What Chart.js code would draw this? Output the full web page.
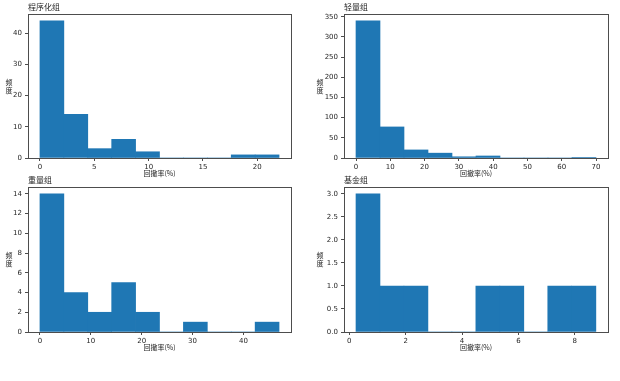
<!DOCTYPE html>
<html><head><meta charset="utf-8">
<script src="https://cdn.jsdelivr.net/npm/chart.js@4"></script>
<style>
html,body{margin:0;padding:0;background:#fff;}
#wrap{position:relative;width:620px;height:381px;overflow:hidden;}
.cell{position:absolute;}
.ylab{position:absolute;font-family:"Noto Sans CJK SC";font-size:7px;line-height:8px;color:#262626;text-align:center;width:10px;}
</style></head>
<body>
<div id="wrap">
  <div class="cell" style="left:0;top:0;width:310px;height:181px"><canvas id="c1"></canvas></div>
  <div class="cell" style="left:310px;top:0;width:310px;height:181px"><canvas id="c2"></canvas></div>
  <div class="cell" style="left:0;top:172px;width:310px;height:209px"><canvas id="c3"></canvas></div>
  <div class="cell" style="left:310px;top:172px;width:310px;height:209px"><canvas id="c4"></canvas></div>
  <div class="ylab" style="left:4px;top:78px">频<br>度</div>
  <div class="ylab" style="left:315px;top:78px">频<br>度</div>
  <div class="ylab" style="left:4px;top:251px">频<br>度</div>
  <div class="ylab" style="left:315px;top:251px">频<br>度</div>
</div>
<script>
// ---- data ----
const titles = ['程序化组', '轻量组', '重量组', '基金组'];
const xLabel = '回撤率(%)';

const binsProg = [0, 2.2, 4.4, 6.6, 8.8, 11, 13.2, 15.4, 17.6, 19.8, 22];
const countsProg = [44, 14, 3, 6, 2, 0, 0, 0, 1, 1];
const xTicksProg = [0, 5, 10, 15, 20];
const yTicksProg = [0, 10, 20, 30, 40];

const binsLight = [0, 7, 14, 21, 28, 35, 42, 49, 56, 63, 70];
const countsLight = [340, 77, 20, 12, 3, 5, 0, 0, 0, 1];
const xTicksLight = [0, 10, 20, 30, 40, 50, 60, 70];
const yTicksLight = [0, 50, 100, 150, 200, 250, 300, 350];

const binsHeavy = [0, 4.7, 9.4, 14.1, 18.8, 23.5, 28.2, 32.9, 37.6, 42.3, 47];
const countsHeavy = [14, 4, 2, 5, 2, 0, 1, 0, 0, 1];
const xTicksHeavy = [0, 10, 20, 30, 40];
const yTicksHeavy = [0, 2, 4, 6, 8, 10, 12, 14];

const binsFund = [0.24, 1.09, 1.94, 2.79, 3.64, 4.49, 5.34, 6.19, 7.04, 7.89, 8.75];
const countsFund = [3, 1, 1, 0, 0, 1, 1, 0, 1, 1];
const xTicksFund = [0, 2, 4, 6, 8];
const yTicksFund = [0, 0.5, 1.0, 1.5, 2.0, 2.5, 3.0];

// ---- drawing ----
const TEXT = '#262626';
const SPINE = '#4d4d4d';
const boxPlugin = {
  id: 'box',
  afterDatasetsDraw(chart) {
    const a = chart.chartArea, ctx = chart.ctx;
    ctx.save();
    ctx.strokeStyle = SPINE; ctx.lineWidth = 1;
    ctx.strokeRect(Math.round(a.left) + 0.5, Math.round(a.top) + 0.5,
                   Math.round(a.right - a.left), Math.round(a.bottom - a.top));
    ctx.restore();
  }
};

function histChart(id, title, bins, counts, xTicks, yTicks, yw, pad, yDec) {
  const xmargin = (bins[bins.length - 1] - bins[0]) * 0.05;
  const ymax = Math.max(...counts) * 1.05;
  const data = counts.map((c, i) => ({x: (bins[i] + bins[i + 1]) / 2, y: c}));
  return new Chart(document.getElementById(id), {
    type: 'bar',
    data: {datasets: [{
      data,
      backgroundColor: '#1f77b4',
      borderWidth: 0,
      barPercentage: 1,
      categoryPercentage: 1
    }]},
    options: {
      responsive: true, maintainAspectRatio: false, animation: false,
      layout: {padding: pad},
      plugins: {
        legend: {display: false}, tooltip: {enabled: false},
        title: {display: true, text: title, align: 'start', fullSize: false,
          color: TEXT, font: {family: 'Noto Sans CJK SC', size: 8, weight: 'normal', lineHeight: 1.2},
          padding: {top: 0, bottom: 2.2}}
      },
      scales: {
        x: {
          type: 'linear', offset: false,
          min: bins[0] - xmargin, max: bins[bins.length - 1] + xmargin,
          afterBuildTicks: s => { s.ticks = xTicks.map(v => ({value: v})); },
          afterFit: s => { s.height = 20; },
          grid: {display: true, drawOnChartArea: false, drawTicks: true, tickLength: 3, color: SPINE, offset: false},
          border: {display: false},
          ticks: {color: TEXT, font: {family: 'DejaVu Sans', size: 7}, padding: 1.5, maxRotation: 0, autoSkip: false,
                  includeBounds: false, callback: v => String(v)},
          title: {display: true, text: xLabel, color: TEXT, font: {family: 'Noto Sans CJK SC', size: 7, lineHeight: 1.2},
                  padding: {top: 0, bottom: 0}}
        },
        y: {
          type: 'linear', min: 0, max: ymax,
          afterBuildTicks: s => { s.ticks = yTicks.map(v => ({value: v})); },
          afterFit: s => { s.width = yw; },
          grid: {display: true, drawOnChartArea: false, drawTicks: true, tickLength: 3, color: SPINE},
          border: {display: false},
          ticks: {color: TEXT, font: {family: 'DejaVu Sans', size: 7}, padding: 3, autoSkip: false,
                  includeBounds: false, callback: v => yDec ? Number(v).toFixed(1) : String(v)}
        }
      }
    },
    plugins: [boxPlugin]
  });
}

histChart('c1', titles[0], binsProg, countsProg, xTicksProg, yTicksProg, 28, {left: 0, right: 19, top: 2.2, bottom: 3}, false);
histChart('c2', titles[1], binsLight, countsLight, xTicksLight, yTicksLight, 34, {left: 0, right: 12, top: 2.2, bottom: 3}, false);
histChart('c3', titles[2], binsHeavy, countsHeavy, xTicksHeavy, yTicksHeavy, 28, {left: 0, right: 19, top: 3.2, bottom: 29}, false);
histChart('c4', titles[3], binsFund, countsFund, xTicksFund, yTicksFund, 34, {left: 0, right: 12, top: 3.2, bottom: 29}, true);
</script>
</body></html>
